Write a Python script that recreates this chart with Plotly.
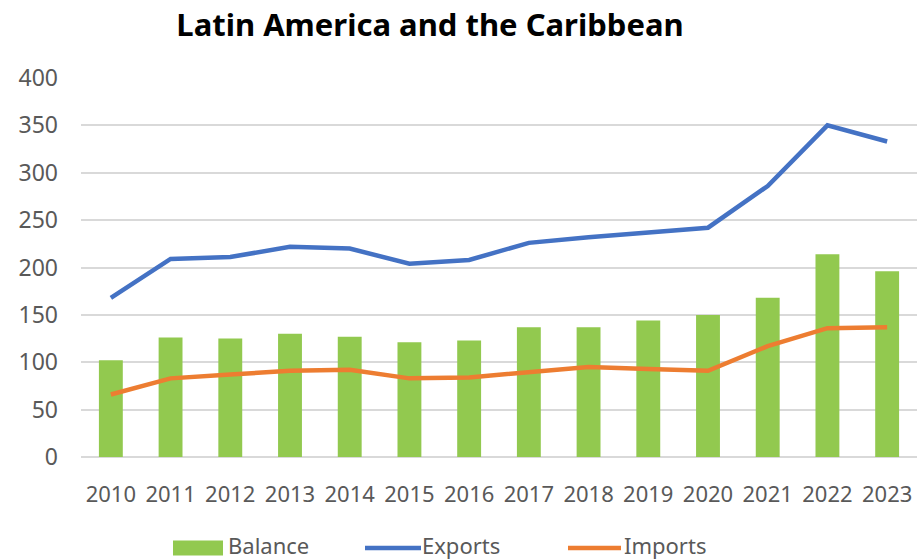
import plotly.graph_objects as go

years = ["2010", "2011", "2012", "2013", "2014", "2015", "2016",
         "2017", "2018", "2019", "2020", "2021", "2022", "2023"]
exports = [168, 209, 211, 222, 220, 204, 208, 226, 232, 237, 242, 286, 350, 333]
imports = [66, 83, 87, 91, 92, 83, 84, 89, 95, 93, 91, 117, 136, 137]
balance = [102, 126, 125, 130, 127, 121, 123, 137, 137, 144, 150, 168, 214, 196]

GREEN = "#92C94F"
BLUE = "#4472C4"
ORANGE = "#ED7D31"
GRID = "#D9D9D9"
TEXT = "#595959"
FONT = "Noto Sans"

fig = go.Figure()
fig.add_trace(go.Bar(x=years, y=balance, name="Balance", marker_color=GREEN,
                     marker_line_width=0, showlegend=False))
fig.add_trace(go.Scatter(x=years, y=exports, name="Exports", mode="lines",
                         line=dict(color=BLUE, width=4.5), showlegend=False))
fig.add_trace(go.Scatter(x=years, y=imports, name="Imports", mode="lines",
                         line=dict(color=ORANGE, width=4.5), showlegend=False))

# Plot area spans 81..917 px horizontally and 78..457 px vertically
L, R, T, B = 81, 917, 78, 457
W, H = 918, 559


def px(x):
    return (x - L) / (R - L)


def py(y):
    return (B - y) / (B - T)


# Legend drawn below the axis
key_y = 548
text_y = 545
shapes = [
    dict(type="rect", xref="paper", yref="paper",
         x0=px(173), x1=px(223), y0=py(key_y + 7.5), y1=py(key_y - 7.5),
         fillcolor=GREEN, line_width=0),
    dict(type="line", xref="paper", yref="paper",
         x0=px(365), x1=px(421), y0=py(key_y), y1=py(key_y),
         line=dict(color=BLUE, width=4.5)),
    dict(type="line", xref="paper", yref="paper",
         x0=px(568), x1=px(621), y0=py(key_y), y1=py(key_y),
         line=dict(color=ORANGE, width=4.5)),
]
annotations = [
    dict(text=t, x=px(x), y=py(text_y), xref="paper", yref="paper",
         xanchor="left", yanchor="middle", showarrow=False,
         font=dict(family=FONT, size=22, color=TEXT))
    for t, x in [("Balance", 226), ("Exports", 420), ("Imports", 622)]
]

fig.update_layout(
    width=W, height=H,
    margin=dict(l=L, r=W - R, t=T, b=H - B),
    paper_bgcolor="white", plot_bgcolor="white",
    bargap=0.6,
    title=dict(text="<b>Latin America and the Caribbean</b>",
               x=430 / W, xanchor="center", y=1 - 25 / H, yanchor="middle",
               font=dict(family=FONT, size=31, color="black")),
    xaxis=dict(type="category", range=[-0.5, 13.5], showgrid=False,
               showline=False, zeroline=False, ticks="",
               tickfont=dict(family=FONT, size=22, color=TEXT),
               ticklabelstandoff=22),
    yaxis=dict(range=[0, 400], dtick=50, showgrid=True, gridcolor=GRID,
               gridwidth=1.5, zeroline=True, zerolinecolor=GRID,
               zerolinewidth=1.5, showline=False, ticks="",
               tickfont=dict(family=FONT, size=23, color=TEXT),
               ticklabelstandoff=22),
    shapes=shapes,
    annotations=annotations,
)

fig.write_html("out.html")
